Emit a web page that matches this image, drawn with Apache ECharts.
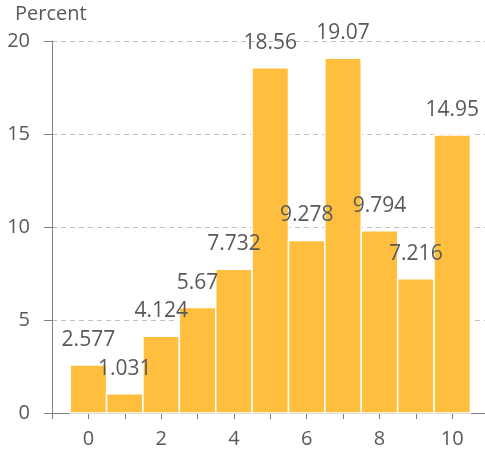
<!DOCTYPE html>
<html>
<head>
<meta charset="utf-8">
<script src="https://cdn.jsdelivr.net/npm/echarts@6/dist/echarts.min.js"></script>
<style>
  html, body { margin: 0; padding: 0; background: #fff; }
  #chart { width: 485px; height: 460px; }
</style>
</head>
<body>
<div id="chart"></div>
<script>
// histogram bins (centre of each unit-wide bin) and their percentages
const binCenters = [0, 1, 2, 3, 4, 5, 6, 7, 8, 9, 10];
const percents = [2.577, 1.031, 4.124, 5.67, 7.732, 18.56, 9.278, 19.07, 9.794, 7.216, 14.95];
const percentLabels = ["2.577", "1.031", "4.124", "5.67", "7.732", "18.56", "9.278", "19.07", "9.794", "7.216", "14.95"];
const yTicks = [0, 5, 10, 15, 20];

const FONT = "'Open Sans', 'Noto Sans', sans-serif";
const TEXT = "#595959";

const chart = echarts.init(document.getElementById("chart"), null, { renderer: "canvas" });

const histData = binCenters.map((c, i) => [c, percents[i]]);

chart.setOption({
    animation: false,
    title: {
        text: "Percent",
        left: 10,
        top: -1,
        textStyle: { color: TEXT, fontSize: 20, fontWeight: "normal", fontFamily: FONT },
    },
    grid: { left: 52, right: 0, top: 41, bottom: 47 },
    xAxis: {
        type: "value",
        min: -1,
        max: 10.9,
        interval: 1,
        axisLine: { show: true, onZero: false, lineStyle: { color: "#808080", width: 1 } },
        axisTick: { show: true, length: 6, lineStyle: { color: "#808080" } },
        axisLabel: {
            color: TEXT,
            fontSize: 20,
            fontFamily: FONT,
            margin: 16,
            showMaxLabel: false,
            formatter: (v) => (v >= 0 && v % 2 === 0 ? String(v) : ""),
        },
        splitLine: { show: false },
    },
    yAxis: {
        type: "value",
        min: yTicks[0],
        max: yTicks[yTicks.length - 1],
        interval: 5,
        axisLine: { show: true, onZero: false, lineStyle: { color: "#808080", width: 1 } },
        axisTick: { show: true, length: 8, lineStyle: { color: "#808080" } },
        axisLabel: { color: TEXT, fontSize: 20, fontFamily: FONT, margin: 22 },
        splitLine: { show: true, lineStyle: { color: "#c0c0c0", type: [5, 4], width: 1 } },
    },
    series: [
        {
            // bars
            type: "custom",
            z: 2,
            data: histData,
            encode: { x: 0, y: 1 },
            renderItem: (params, api) => {
                const c = api.value(0);
                const v = api.value(1);
                const p0 = api.coord([c - 0.5, v]);
                const p1 = api.coord([c + 0.5, 0]);
                return {
                    type: "rect",
                    shape: { x: p0[0], y: p0[1], width: p1[0] - p0[0], height: p1[1] - p0[1] },
                    style: { fill: "#FFBE3D", stroke: "#ffffff", lineWidth: 1.5 },
                };
            },
        },
        {
            // value labels, drawn above all bars
            type: "custom",
            z: 5,
            data: histData,
            encode: { x: 0, y: 1 },
            renderItem: (params, api) => {
                const p = api.coord([api.value(0), api.value(1)]);
                return {
                    type: "text",
                    x: p[0],
                    y: p[1] - 25,
                    style: {
                        text: percentLabels[params.dataIndex],
                        fill: TEXT,
                        font: "21px " + FONT,
                        textAlign: "center",
                        textVerticalAlign: "middle",
                    },
                };
            },
        },
    ],
});
</script>
</body>
</html>
